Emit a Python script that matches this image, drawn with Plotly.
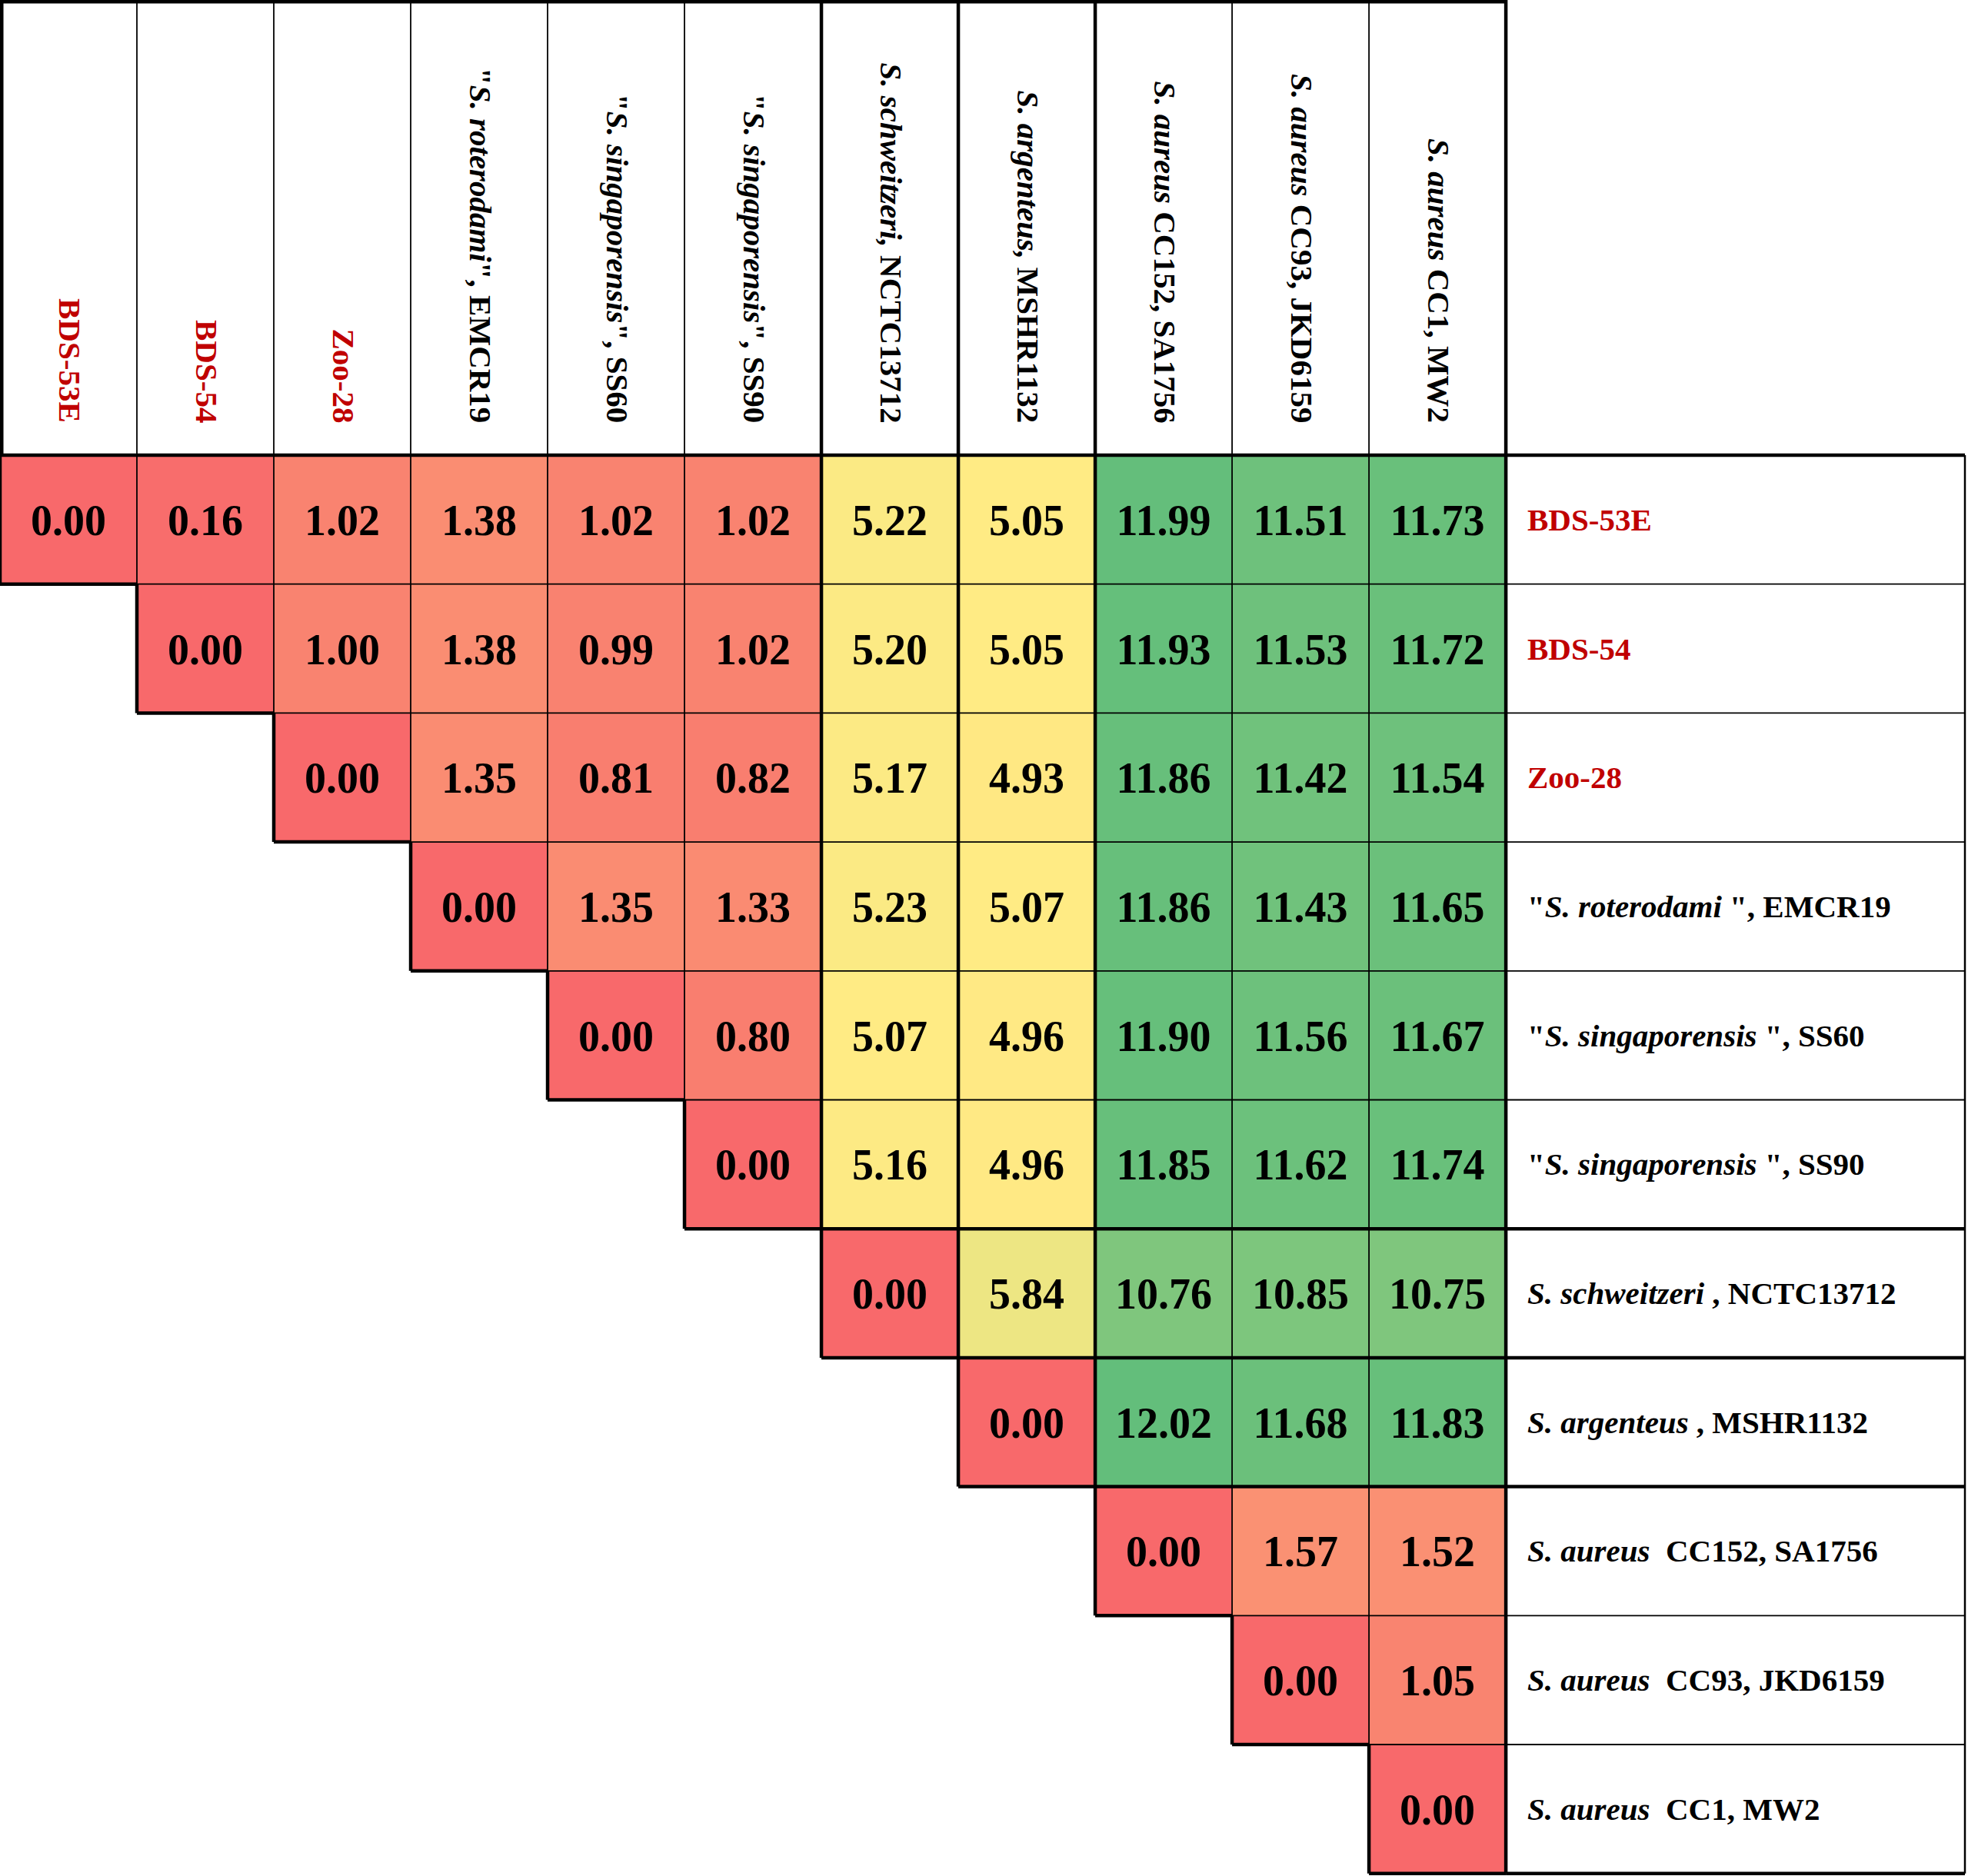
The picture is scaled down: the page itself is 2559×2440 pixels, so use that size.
import numpy as np
import plotly.graph_objects as go

# strain labels (columns and rows share the same order)
col_labels = [
    "BDS-53E", "BDS-54", "Zoo-28",
    '"<i>S. roterodami</i>", EMCR19',
    '"<i>S. singaporensis</i>", SS60',
    '"<i>S. singaporensis</i>", SS90',
    "<i>S. schweitzeri,</i> NCTC13712",
    "<i>S. argenteus,</i> MSHR1132",
    "<i>S. aureus</i> CC152, SA1756",
    "<i>S. aureus</i> CC93, JKD6159",
    "<i>S. aureus</i> CC1, MW2",
]
row_labels = [
    "BDS-53E", "BDS-54", "Zoo-28",
    '"<i>S. roterodami </i>", EMCR19',
    '"<i>S. singaporensis </i>", SS60',
    '"<i>S. singaporensis </i>", SS90',
    "<i>S. schweitzeri </i>, NCTC13712",
    "<i>S. argenteus </i>, MSHR1132",
    "<i>S. aureus</i>&nbsp; CC152, SA1756",
    "<i>S. aureus</i>&nbsp; CC93, JKD6159",
    "<i>S. aureus</i>&nbsp; CC1, MW2",
]
red_labels = ["BDS-53E", "BDS-54", "Zoo-28"]

# upper triangle, each row starts on the diagonal
row_bds53e = [0.00, 0.16, 1.02, 1.38, 1.02, 1.02, 5.22, 5.05, 11.99, 11.51, 11.73]
row_bds54 = [0.00, 1.00, 1.38, 0.99, 1.02, 5.20, 5.05, 11.93, 11.53, 11.72]
row_zoo28 = [0.00, 1.35, 0.81, 0.82, 5.17, 4.93, 11.86, 11.42, 11.54]
row_emcr19 = [0.00, 1.35, 1.33, 5.23, 5.07, 11.86, 11.43, 11.65]
row_ss60 = [0.00, 0.80, 5.07, 4.96, 11.90, 11.56, 11.67]
row_ss90 = [0.00, 5.16, 4.96, 11.85, 11.62, 11.74]
row_nctc13712 = [0.00, 5.84, 10.76, 10.85, 10.75]
row_mshr1132 = [0.00, 12.02, 11.68, 11.83]
row_sa1756 = [0.00, 1.57, 1.52]
row_jkd6159 = [0.00, 1.05]
row_mw2 = [0.00]

# species groups (for the thick block borders)
groups = [0, 0, 0, 0, 0, 0, 1, 2, 3, 3, 3]

rows = [row_bds53e, row_bds54, row_zoo28, row_emcr19, row_ss60, row_ss90,
        row_nctc13712, row_mshr1132, row_sa1756, row_jkd6159, row_mw2]
n = len(col_labels)

z = [[None] * n for _ in range(n)]
txt = [[""] * n for _ in range(n)]
for i, r in enumerate(rows):
    for k, v in enumerate(r):
        z[i][i + k] = v
        txt[i][i + k] = f"{v:.2f}"

allv = [v for r in rows for v in r]
zmin, zmax = min(allv), max(allv)
mid = (np.median(allv) - zmin) / (zmax - zmin)
cscale = [[0, "#F8696B"], [mid, "#FFEB84"], [1, "#63BE7B"]]

# geometry (pixels)
W, H = 2559, 2440
cell_w, cell_h = 178.04, 167.7
head_h = 592
lab_w = 601
x_min, x_max = -0.5, n - 0.5 + lab_w / cell_w
y_top = -0.5 - head_h / cell_h
y_bot = n - 0.5 + (H - head_h - n * cell_h) / cell_h
x_right = n - 0.5 + 597 / cell_w

FONT = "Liberation Serif"
THIN, THICK = 1.8, 4.5

fig = go.Figure(go.Heatmap(
    z=z, x=list(range(n)), y=list(range(n)),
    text=txt, texttemplate="<b>%{text}</b>",
    textfont=dict(family=FONT, size=56, color="black"),
    colorscale=cscale, zmin=zmin, zmax=zmax,
    showscale=False, hoverinfo="skip", xgap=0, ygap=0,
))

edges = {}


def add_edge(x0, y0, x1, y1, w):
    key = (round(x0, 4), round(y0, 4), round(x1, 4), round(y1, 4))
    edges[key] = max(edges.get(key, 0), w)


for i in range(n):
    for j in range(i, n):
        top = THICK if i == 0 or groups[i - 1] != groups[i] else THIN
        bot = THICK if i == n - 1 or i + 1 > j or groups[i] != groups[i + 1] else THIN
        left = THICK if j == 0 or j - 1 < i or groups[j - 1] != groups[j] else THIN
        right = THICK if j == n - 1 or groups[j] != groups[j + 1] else THIN
        add_edge(j - 0.5, i - 0.5, j + 0.5, i - 0.5, top)
        add_edge(j - 0.5, i + 0.5, j + 0.5, i + 0.5, bot)
        add_edge(j - 0.5, i - 0.5, j - 0.5, i + 0.5, left)
        add_edge(j + 0.5, i - 0.5, j + 0.5, i + 0.5, right)

# header boxes
for j in range(n + 1):
    w = THICK if j in (0, n) or groups[j - 1] != groups[j] else THIN
    if j == 0:
        w = THICK * 2
    add_edge(j - 0.5, y_top, j - 0.5, -0.5, w)
add_edge(-0.5, y_top, n - 0.5, y_top, THICK * 2)

# label column lines
for i in range(n + 1):
    w = THICK if i in (0, n) or groups[i - 1] != groups[i] else THIN
    add_edge(n - 0.5, i - 0.5, x_right, i - 0.5, w)
add_edge(x_right, -0.5, x_right, n - 0.5, 2.5)

shapes = []
for (x0, y0, x1, y1), w in edges.items():
    shapes.append(dict(type="line", xref="x", yref="y", x0=x0, y0=y0, x1=x1, y1=y1,
                       line=dict(color="black", width=w)))

annotations = []
for j, lab in enumerate(col_labels):
    annotations.append(dict(
        x=j + 2 / cell_w, y=-0.5 - 40 / cell_h, xref="x", yref="y",
        text="<b>" + lab + "</b>", showarrow=False, textangle=90,
        xanchor="center", yanchor="bottom",
        font=dict(family=FONT, size=41,
                  color="#C00000" if lab in red_labels else "black"),
    ))
for i, lab in enumerate(row_labels):
    annotations.append(dict(
        x=n - 0.5 + 26 / cell_w, y=i, xref="x", yref="y",
        text="<b>" + lab + "</b>", showarrow=False,
        xanchor="left", yanchor="middle",
        font=dict(family=FONT, size=41,
                  color="#C00000" if lab in red_labels else "black"),
    ))

fig.update_layout(
    width=W, height=H,
    margin=dict(l=0, r=0, t=0, b=0),
    paper_bgcolor="white", plot_bgcolor="white",
    shapes=shapes, annotations=annotations,
    xaxis=dict(range=[x_min, x_max], visible=False, fixedrange=True),
    yaxis=dict(range=[y_bot, y_top], visible=False, fixedrange=True),
)

fig.write_html("out.html", config={"displayModeBar": False},
               post_script="document.body.style.margin='0';")
